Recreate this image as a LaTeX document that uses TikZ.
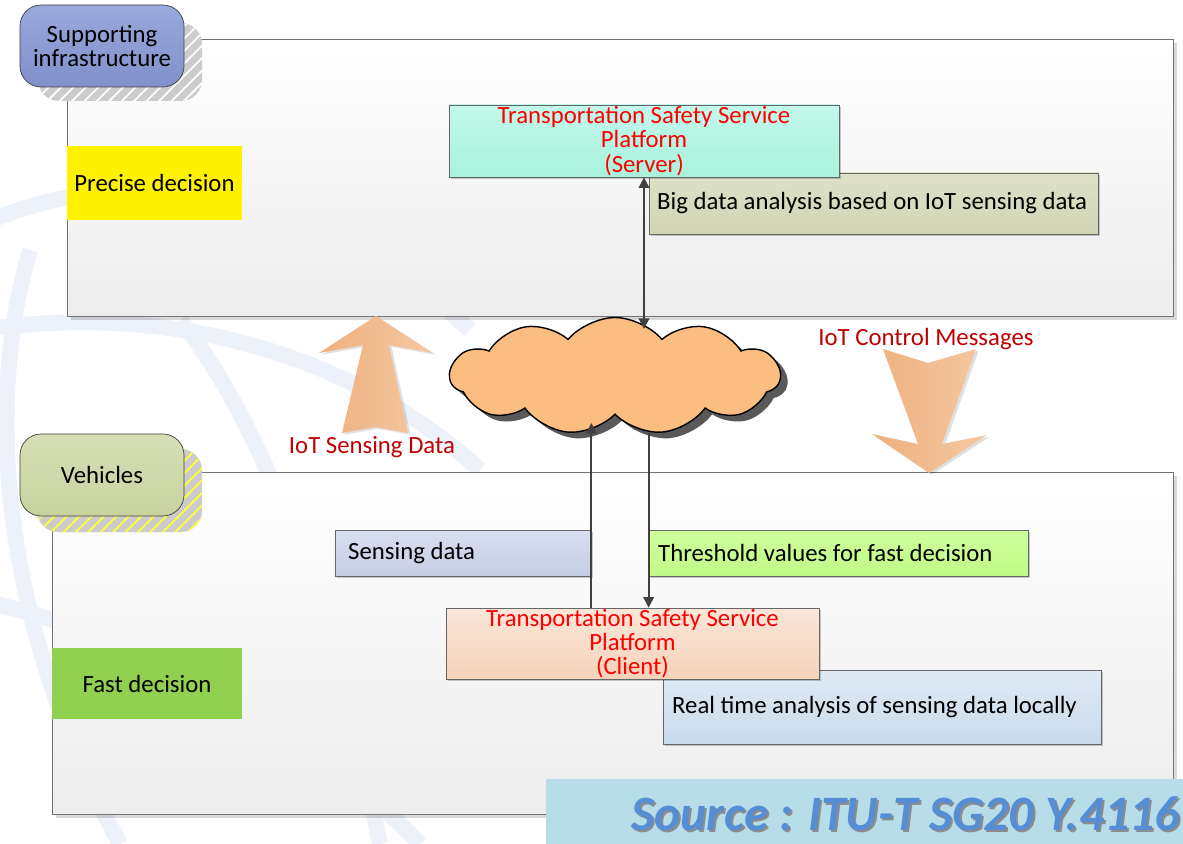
\documentclass[tikz,border=0pt]{standalone}
\usepackage{fontspec}
\setmainfont{Carlito}
\usetikzlibrary{positioning,fit,shapes.symbols,shadows,patterns.meta,arrows.meta}
\definecolor{tabblueT}{HTML}{9AA9DC}
\definecolor{tabblueB}{HTML}{7F90CB}
\definecolor{tabgreenT}{HTML}{D6DFB5}
\definecolor{tabgreenB}{HTML}{C8D29F}
\definecolor{mintT}{HTML}{C2F8EB}
\definecolor{mintB}{HTML}{A9F2DC}
\definecolor{oliveT}{HTML}{DEE1C8}
\definecolor{oliveB}{HTML}{D1D5B4}
\definecolor{lavT}{HTML}{D8DEF0}
\definecolor{lavB}{HTML}{C6CEE6}
\definecolor{limeT}{HTML}{CEFF9C}
\definecolor{limeB}{HTML}{C0FA86}
\definecolor{peachT}{HTML}{FAE6D9}
\definecolor{peachB}{HTML}{F5D3BA}
\definecolor{skyT}{HTML}{E0EAF4}
\definecolor{skyB}{HTML}{C8DBEB}
\definecolor{fastgreen}{HTML}{92D050}
\definecolor{cloudfill}{HTML}{FBBE80}
\definecolor{bigarrowL}{HTML}{EEB07E}
\definecolor{bigarrowR}{HTML}{F5C8A2}
\definecolor{msgred}{HTML}{C00000}
\definecolor{banner}{HTML}{B7DDE8}
\definecolor{srcblue}{HTML}{558ED5}
\definecolor{wmark}{HTML}{EDF1F9}
\begin{document}
\begin{tikzpicture}[x=0.02cm,y=-0.02cm,
    font=\fontsize{14.1}{13.8}\selectfont,
    panel/.style={draw=black!55, top color=white, bottom color=black!7, inner sep=0pt,
      drop shadow={shadow xshift=2pt, shadow yshift=-2pt, fill=black, opacity=.15}},
    tabbox/.style={draw=black!75, rounded corners=12pt, inner sep=0pt},
    tabshade/.style={rounded corners=12pt, inner sep=0pt, preaction={fill=black!20},
      pattern={Lines[angle=45, distance=5pt, line width=1pt]}},
    box/.style={draw=black!60, inner sep=0pt,
      drop shadow={shadow xshift=1.2pt, shadow yshift=-1.2pt, fill=black, opacity=.2}},
    platform/.style={align=center, text=red},
    flat/.style={inner sep=0pt},
    link/.style={draw=black!75, line width=1.1pt, -{Triangle[length=6pt, width=6pt]}},
    bothlink/.style={link, {Triangle[length=6pt, width=6pt]}-{Triangle[length=6pt, width=6pt]}},
    bigarrow/.style={left color=bigarrowL, right color=bigarrowR,
      drop shadow={shadow xshift=1.5pt, shadow yshift=-1pt, fill=black, opacity=.12}},
    msg/.style={text=msgred},
    watermark/.style={draw=wmark, line width=9pt}
  ]
  \useasboundingbox (0,0) rectangle (1183,844);
  \fill[white] (0,0) rectangle (1183,844);

  % faint emblem in the background
  \draw[watermark] (-20,225) .. controls (150,150) and (330,200) .. (470,330);
  \draw[watermark] (-20,330) .. controls (180,300) and (360,360) .. (480,470);
  \draw[watermark] (30,250) .. controls (-20,420) and (10,640) .. (120,844);
  \draw[watermark] (180,320) .. controls (260,420) and (330,600) .. (380,844);
  \draw[watermark] (-20,600) .. controls (150,640) and (300,720) .. (420,844);

  % supporting infrastructure
  \node[panel, fit={(67,39) (1173,316)}] (infra) {};
  \node[tabshade, pattern color=white, fit={(38,23) (202,101)}] (infraShd) {};
  \node[tabbox, top color=tabblueT, bottom color=tabblueB, fit={(20,5) (184,87)}] (infraTab) {};
  \node[align=center] (infraTxt) at (infraTab.center) {Supporting\\infrastructure};
  \node[flat, fill=yellow, fit={(67,146) (242,220)}] (precise) {};
  \node (preciseTxt) at (precise.center) {Precise decision};
  \node[box, top color=oliveT, bottom color=oliveB, fit={(649,173) (1098,234)}] (bigdata) {};
  \node[anchor=west] (bigdataTxt) at (651,203) {Big data analysis based on IoT sensing data};
  \node[box, top color=mintT, bottom color=mintB, fit={(449,105) (839,177)}] (server) {};
  \node[platform] (serverTxt) at (server.center)
    {Transportation Safety Service\\Platform\\(Server)};

  % vehicles
  \node[panel, fit={(52,472) (1173,814)}] (veh) {};
  \node[tabshade, pattern color=yellow!80, fit={(37,449) (202,532)}] (vehShd) {};
  \node[tabbox, top color=tabgreenT, bottom color=tabgreenB, fit={(20,434) (184,516)}] (vehTab) {};
  \node (vehTxt) at (vehTab.center) {Vehicles};
  \node[box, top color=lavT, bottom color=lavB, fit={(335,530) (591,576)}] (sense) {};
  \node[anchor=west] (senseTxt) at (342,553) {Sensing data};
  \node[box, top color=limeT, bottom color=limeB, fit={(649,530) (1028,576)}] (thresh) {};
  \node[anchor=west] (threshTxt) at (652,553) {Threshold values for fast decision};
  \node[box, top color=skyT, bottom color=skyB, fit={(663,670) (1101,744)}] (local) {};
  \node[anchor=west] (localTxt) at (666,707) {Real time analysis of sensing data locally};
  \node[box, top color=peachT, bottom color=peachB, fit={(446,608) (819,679)}] (client) {};
  \node[platform] (clientTxt) at (client.center)
    {Transportation Safety Service\\Platform\\(Client)};
  \node[flat, fill=fastgreen, fit={(52,648) (242,719)}] (fast) {};
  \node (fastTxt) at (fast.center) {Fast decision};

  % network
  \node[cloud, draw=black, line width=.8pt, fill=cloudfill, cloud puffs=11, cloud puff arc=100,
    aspect=2.9, minimum width=6.6cm, minimum height=2.34cm, inner sep=0pt,
    drop shadow={shadow xshift=4pt, shadow yshift=-3.5pt, fill=black!65, opacity=1}] (net) at (615,376) {};
  \coordinate (netTop) at (server.south |- 0,329);
  \coordinate (netUp) at (sense.east |- 0,423);
  \coordinate (netDown) at (thresh.west |- 0,433);

  \draw[bothlink] (server.south) -- (netTop);
  \draw[link] (client.north -| sense.east) -- (netUp);
  \draw[link] (netDown) -- (client.north -| thresh.west);

  % big arrows
  \path[bigarrow] (376,316) -- (433,353) -- (389,345) -- (408,433) -- (375,427)
    -- (342,433) -- (363,345) -- (319,353) -- cycle;
  \path[bigarrow] (883,349) -- (928,363) -- (976,349) -- (942,444) -- (987,435)
    -- (929,473) -- (872,434) -- (918,444) -- cycle;
  \node[msg] (sensLbl) at (372,447) {IoT Sensing Data};
  \node[msg] (ctrlLbl) at (926,339) {IoT Control Messages};

  % source banner
  \node[flat, fill=banner, fit={(546,779) (1183,844)}] (bannerBox) {};
  \node[anchor=east, inner sep=0pt, text=black!45, font=\fontsize{28.2}{30}\bfseries\itshape\selectfont]
    (srcShd) at (1182,816) {Source : ITU-T SG20 Y.4116};
  \node[anchor=east, inner sep=0pt, text=srcblue, font=\fontsize{28.2}{30}\bfseries\itshape\selectfont]
    (src) at (1180,814) {Source : ITU-T SG20 Y.4116};
\end{tikzpicture}
\end{document}
